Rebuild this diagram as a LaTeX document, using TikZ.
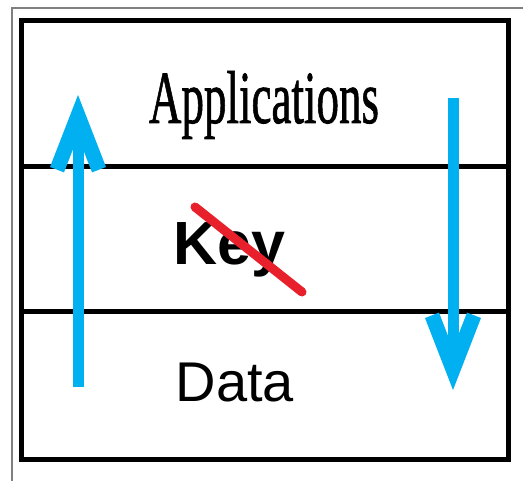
\documentclass[tikz,border=0pt]{standalone}
\usepackage{fontspec}
\setmainfont{Liberation Serif}
\newfontfamily\appfont[FakeBold=1.2]{Liberation Serif}
\newfontfamily\arialfont{Liberation Sans}
\usetikzlibrary{positioning, arrows.meta}

\definecolor{arrowblue}{RGB}{0,176,240}
\definecolor{strikered}{RGB}{232,32,44}

\begin{document}
\begin{tikzpicture}[x=1pt, y=-1pt, inner sep=0pt,
    layer/.style={draw, rectangle, line width=5pt, outer sep=0pt, minimum width=487pt},
    flow/.style={arrowblue, line width=11pt, -{Straight Barb[length=54pt, width=42pt, line width=15pt]}}]
    \useasboundingbox (0,0) rectangle (523,481);
    \draw [gray, line width=1.5pt] (523,8) -- (12,8) -- (12,481);

    \node (apps) at (264.5,94) [layer, minimum height=146pt] {};
    \node (key) [layer, minimum height=145pt, below=0pt of apps] {};
    \node (data) [layer, minimum height=148pt, below=0pt of key] {};

    \node (appstext) at (264,123) [anchor=base, font=\appfont\fontsize{75}{75}\selectfont] {\scalebox{0.6}[1]{Applications}};
    \node (keytext) at (229,265) [anchor=base, font=\arialfont\bfseries\fontsize{61}{61}\selectfont] {Key};
    \node (datatext) at (235,402) [anchor=base, font=\arialfont\fontsize{56}{56}\selectfont] {Data};

    \coordinate (strike1) at (195,207);
    \coordinate (strike2) at (302,292);
    \draw [strikered, line width=9pt, line cap=round] (strike1) -- (strike2);

    \coordinate (up1) at (78,387);
    \coordinate (up2) at (78,95);
    \coordinate (down1) at (453,98);
    \coordinate (down2) at (453,390);
    \draw [flow] (up1) -- (up2);
    \draw [flow] (down1) -- (down2);
\end{tikzpicture}
\end{document}
